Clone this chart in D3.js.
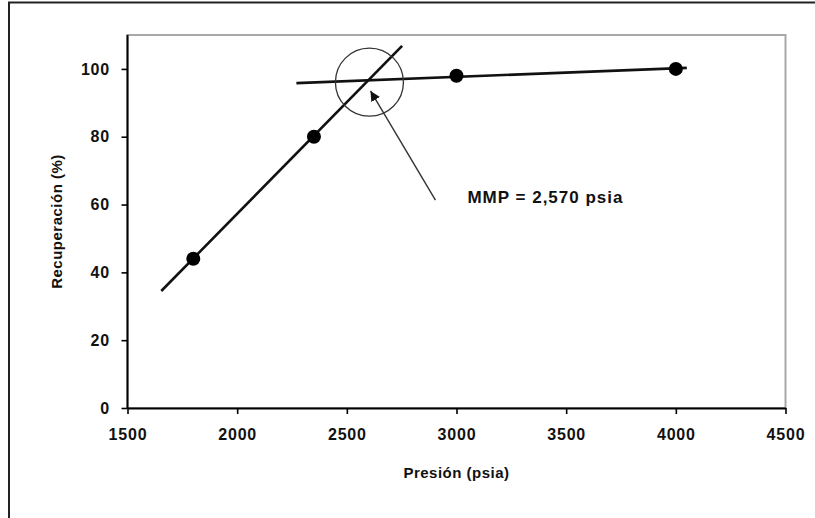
<!DOCTYPE html>
<html>
<head>
<meta charset="utf-8">
<script src="https://cdn.jsdelivr.net/npm/d3@7"></script>
<style>
  html, body { margin: 0; padding: 0; background: #fff; }
  svg { display: block; }
  text { font-family: "Liberation Sans", Arial, sans-serif; font-weight: bold; fill: #111; }
</style>
</head>
<body>
<svg id="chart" width="815" height="518"></svg>
<script>
// ---- data ----
const pressure = [1800, 2350, 3000, 4000];          // psia
const recovery = [44, 80, 98, 100];                 // %
const steepLine = [[1654, 34.5], [2752, 106.8]];    // miscible trend
const flatLine  = [[2270, 95.8], [4050, 100.3]];    // immiscible plateau
const xTicks = [1500, 2000, 2500, 3000, 3500, 4000, 4500];
const yTicks = [0, 20, 40, 60, 80, 100];
const xTitle = "Presión (psia)";
const yTitle = "Recuperación (%)";
const mmpLabel = "MMP = 2,570 psia";
const mmpCircleCenter = [2603, 96.1];
const arrowFrom = [2904, 61.3];
const arrowTo = [2608, 93.5];
const labelAt = [3050, 60.5];

// ---- layout ----
const svg = d3.select("#chart");
const pL = 127.5, pR = 785.5, pT = 35, pB = 408;
const x = d3.scaleLinear().domain([1500, 4500]).range([pL, pR]);
const y = d3.scaleLinear().domain([0, 110]).range([pB, pT]);

// outer chart border
svg.append("rect")
  .attr("x", 9).attr("y", 2.5).attr("width", 900).attr("height", 600)
  .attr("fill", "none").attr("stroke", "#222").attr("stroke-width", 2);

// plot area border
svg.append("rect")
  .attr("x", pL).attr("y", pT).attr("width", pR - pL).attr("height", pB - pT)
  .attr("fill", "none").attr("stroke", "#a8a8a8").attr("stroke-width", 2);

// axes
const xAxis = svg.append("g").attr("transform", `translate(0,${pB})`)
  .call(d3.axisBottom(x).tickValues(xTicks).tickFormat(d3.format("d")).tickSize(6).tickSizeOuter(0).tickPadding(15));
const yAxis = svg.append("g").attr("transform", `translate(${pL},0)`)
  .call(d3.axisLeft(y).tickValues(yTicks).tickFormat(d3.format("d")).tickSize(6).tickSizeOuter(0).tickPadding(11.5));
[xAxis, yAxis].forEach(g => {
  g.selectAll("path.domain").attr("stroke", "#000").attr("stroke-width", 2);
  g.selectAll(".tick line").attr("stroke", "#000").attr("stroke-width", 1.6);
  g.selectAll(".tick text").attr("font-size", 16).attr("letter-spacing", 0.8)
    .style("font-family", '"Liberation Sans", Arial, sans-serif').style("font-weight", "bold").attr("fill", "#111");
});
// y-axis line up to top of plot
yAxis.select("path.domain").attr("d", `M0,${pB}V${pT}`);

// titles
svg.append("text").attr("x", (pL + pR) / 2).attr("y", 478)
  .attr("text-anchor", "middle").attr("font-size", 15).attr("letter-spacing", 0.5).text(xTitle);
svg.append("text").attr("transform", `translate(62,${(pT + pB) / 2}) rotate(-90)`)
  .attr("text-anchor", "middle").attr("font-size", 15).attr("letter-spacing", 0.5).text(yTitle);

// trend lines
const line = d3.line().x(d => x(d[0])).y(d => y(d[1]));
[steepLine, flatLine].forEach(pts => {
  svg.append("path").attr("d", line(pts)).attr("fill", "none")
    .attr("stroke", "#111").attr("stroke-width", 2.6).attr("stroke-linecap", "butt");
});

// data points
svg.append("g").selectAll("circle").data(pressure.map((p, i) => [p, recovery[i]]))
  .join("circle").attr("cx", d => x(d[0])).attr("cy", d => y(d[1])).attr("r", 7).attr("fill", "#000");

// MMP circle
svg.append("circle").attr("cx", x(mmpCircleCenter[0])).attr("cy", y(mmpCircleCenter[1])).attr("r", 34)
  .attr("fill", "none").attr("stroke", "#333").attr("stroke-width", 1.3);

// arrow
svg.append("defs").append("marker").attr("id", "ah")
  .attr("viewBox", "0 0 10 10").attr("refX", 10).attr("refY", 5)
  .attr("markerWidth", 10).attr("markerHeight", 10).attr("markerUnits", "userSpaceOnUse")
  .attr("orient", "auto")
  .append("path").attr("d", "M0,0 L10,5 L0,10 Z").attr("fill", "#111");
svg.append("line")
  .attr("x1", x(arrowFrom[0])).attr("y1", y(arrowFrom[1]))
  .attr("x2", x(arrowTo[0])).attr("y2", y(arrowTo[1]))
  .attr("stroke", "#333").attr("stroke-width", 1.4).attr("marker-end", "url(#ah)");

// MMP label
svg.append("text").attr("x", x(labelAt[0])).attr("y", y(labelAt[1]))
  .attr("font-size", 17).attr("letter-spacing", 1).text(mmpLabel);
</script>
</body>
</html>
